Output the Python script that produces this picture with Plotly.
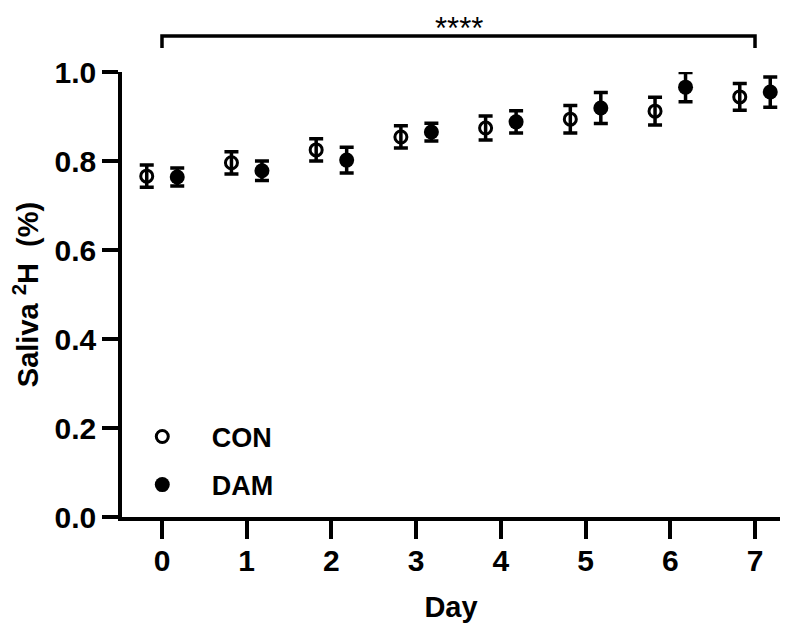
import plotly.graph_objects as go

days = [0, 1, 2, 3, 4, 5, 6, 7]
con_mean = [0.766, 0.796, 0.825, 0.854, 0.874, 0.894, 0.912, 0.944]
con_err = [0.025, 0.025, 0.025, 0.025, 0.027, 0.031, 0.031, 0.030]
dam_mean = [0.764, 0.778, 0.802, 0.865, 0.888, 0.919, 0.966, 0.955]
dam_err = [0.020, 0.022, 0.029, 0.020, 0.025, 0.035, 0.033, 0.034]
offset = 0.18
sig_label = "****"
y_ticks = [0, 0.2, 0.4, 0.6, 0.8, 1.0]
y_ticktext = ["0.0", "0.2", "0.4", "0.6", "0.8", "1.0"]

FONT = "Liberation Sans, Arial, sans-serif"

fig = go.Figure()
fig.add_trace(go.Scatter(
    x=[d - offset for d in days], y=con_mean, mode="markers", name="CON",
    legendgroup="con",
    marker=dict(symbol="circle-open", size=12, color="black", line=dict(width=3, color="black")),
    error_y=dict(type="data", array=con_err, color="black", thickness=3.5, width=7),
    cliponaxis=False,
))
fig.add_trace(go.Scatter(
    x=[d + offset for d in days], y=dam_mean, mode="markers", name="DAM",
    legendgroup="dam",
    marker=dict(symbol="circle", size=15, color="black"),
    error_y=dict(type="data", array=dam_err, color="black", thickness=3.5, width=7),
    cliponaxis=False,
))

# significance bracket
fig.add_shape(type="path", xref="x", yref="paper",
              path=f"M {days[0]},1.054 L {days[0]},1.081 L {days[-1]},1.081 L {days[-1]},1.054",
              line=dict(color="black", width=3.5))
fig.add_annotation(x=(days[0] + days[-1]) / 2, y=1.141, xref="x", yref="paper",
                   text=sig_label, showarrow=False, yanchor="top",
                   font=dict(family=FONT, size=31, color="black"))

fig.update_layout(
    width=790, height=626,
    margin=dict(l=114, r=18, t=64, b=117),
    plot_bgcolor="white", paper_bgcolor="white",
    font=dict(family=FONT, color="black"),
    showlegend=True,
    legend=dict(x=-0.014, y=0.235, xanchor="left", yanchor="top",
                bgcolor="rgba(0,0,0,0)", traceorder="grouped",
                font=dict(family=FONT, size=27, color="black", weight="bold"),
                itemsizing="trace", tracegroupgap=10, itemwidth=89),
    xaxis=dict(range=[-0.472, 7.295], tickvals=days, ticktext=[str(d) for d in days],
               showline=True, linecolor="black", linewidth=3.5,
               ticks="outside", ticklen=18, tickwidth=3.5, tickcolor="black",
               ticklabelstandoff=-4,
               showgrid=False, zeroline=False,
               tickfont=dict(family=FONT, size=30, color="black", weight="bold"),
               title=dict(text="Day", standoff=22,
                          font=dict(family=FONT, size=29, color="black", weight="bold"))),
    yaxis=dict(range=[0, 1.0], tickvals=y_ticks, ticktext=y_ticktext,
               showline=True, linecolor="black", linewidth=3.5,
               ticks="outside", ticklen=16, tickwidth=3.5, tickcolor="black",
               showgrid=False, zeroline=False,
               tickfont=dict(family=FONT, size=30, color="black", weight="bold"),
               title=dict(text="Saliva <sup>2</sup>H\u00a0\u00a0(%)", standoff=12,
                          font=dict(family=FONT, size=29, color="black", weight="bold"))),
)

fig.write_html("out.html")
